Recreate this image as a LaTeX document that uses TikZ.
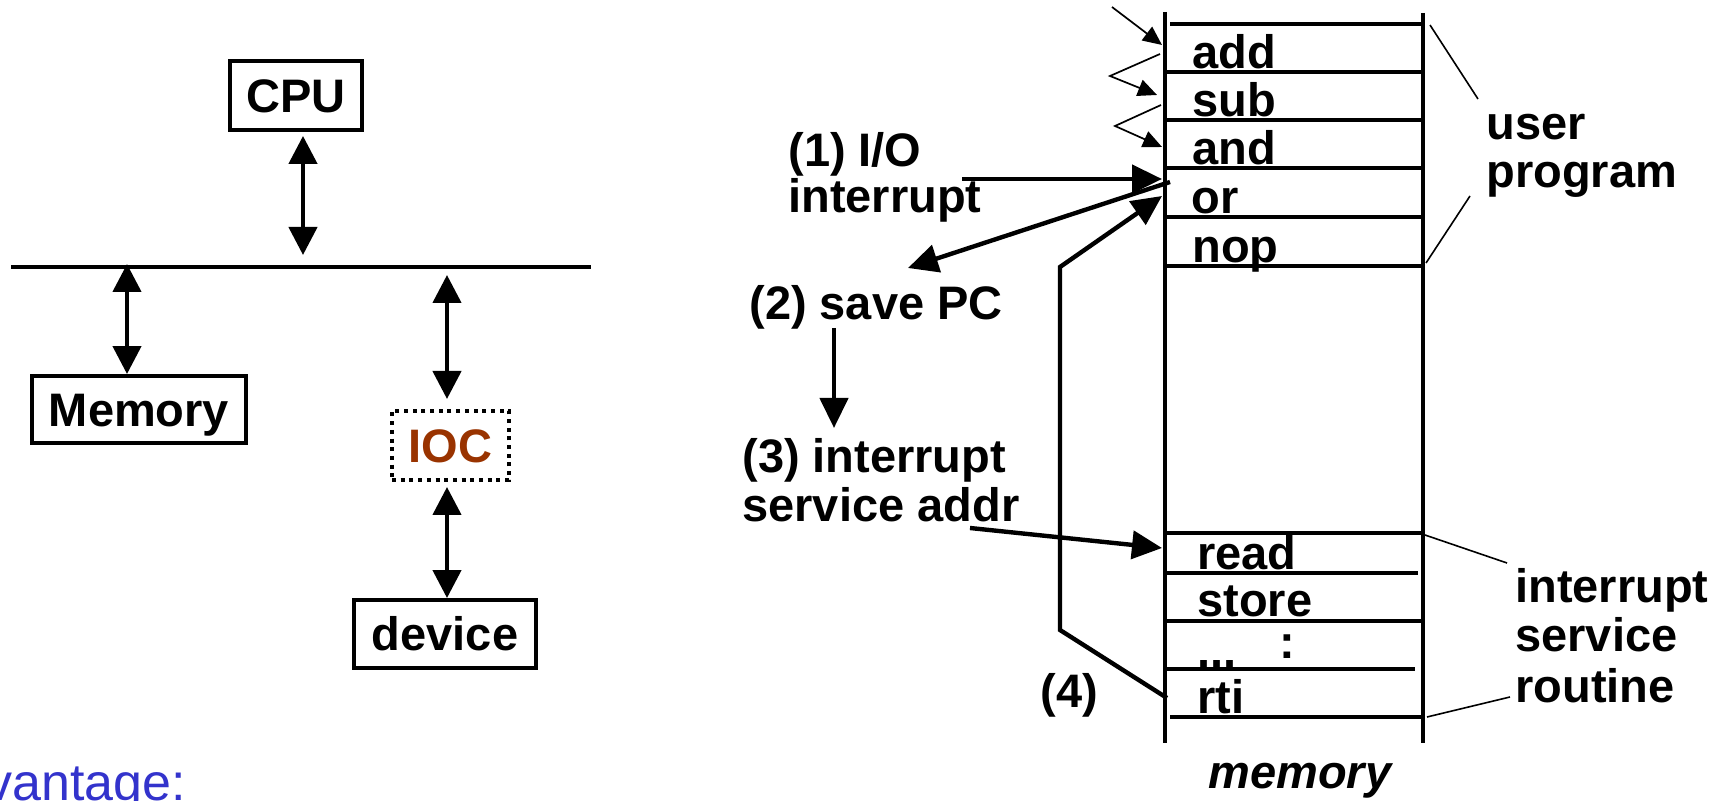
\documentclass[tikz,border=0pt]{standalone}
\usepackage{fontspec}
\setmainfont{Liberation Sans}
\usetikzlibrary{arrows.meta}
\definecolor{iocbrown}{HTML}{993300}
\definecolor{advblue}{HTML}{3333CC}
\begin{document}
\begin{tikzpicture}[x=0.5pt,y=-0.5pt,
  every node/.style={font=\fontsize{23.5}{24}\selectfont\bfseries, inner sep=0pt},
  lbl/.style={anchor=base west},
  box/.style={draw, line width=2.2pt, text height=16.8pt, text depth=0pt, inner sep=0pt},
  dotbox/.style={draw, line width=2pt, dash pattern=on 2pt off 2.35pt, text height=16.8pt, text depth=0pt, inner sep=0pt},
  dbl/.style={line width=2.2pt, {Triangle[length=14pt,width=14pt]}-{Triangle[length=14pt,width=14pt]}},
  fat arrow/.style={line width=2.2pt, -{Triangle[length=15pt,width=14pt]}},
  thin arrow/.style={line width=0.85pt, line join=miter, -{Triangle[length=9.5pt,width=8.5pt]}},
  leader/.style={line width=0.8pt},
  memline/.style={line width=2pt},
]
\useasboundingbox (0,0) rectangle (1720,801);
\clip (0,0) rectangle (1720,801);

% ---------------- left: bus diagram ----------------
\node[box, minimum width=65.75pt, minimum height=34.25pt] (cpu) at (296,95.5) {CPU};
\node[box, minimum width=106.75pt, minimum height=33.25pt] (mem) at (139,409.5) {Memory};
\node[dotbox, minimum width=58.5pt, minimum height=34.5pt, text=iocbrown] (ioc) at (450.5,445.5) {IOC};
\node[box, minimum width=90.75pt, minimum height=33.75pt] (dev) at (445,634) {device};

\coordinate (busL) at (11,267);
\coordinate (busR) at (591,267);
\draw[line width=2pt] (busL) -- (busR);

\coordinate (bcpu) at (303,255);
\coordinate (bmem) at (127,264);
\coordinate (bioc) at (447,275);

\draw[dbl, shorten <=2pt] (cpu.south -| bcpu) -- (bcpu);
\draw[dbl] (bmem) -- (mem.north -| bmem);
\draw[dbl, shorten >=5pt] (bioc) -- (ioc.north -| bioc);
\draw[dbl, shorten <=2.5pt] (ioc.south -| bioc) -- (dev.north -| bioc);

\node[anchor=base west, font=\fontsize{26}{27}\selectfont, text=advblue] (adv) at (-14,801) {vantage:};

% ---------------- right: memory ----------------
\draw[memline] (1165,12) -- (1165,743);
\draw[memline] (1423,13) -- (1423,743);
\draw[memline] (1170,24) -- (1421,24);
\foreach \yy in {72,120,168,217,266,533,621}
  \draw[memline] (1167,\yy) -- (1423,\yy);
\draw[memline] (1167,573) -- (1418,573);
\draw[memline] (1167,669) -- (1415,669);
\draw[memline] (1170,717) -- (1423,717);

\node[lbl] (i-add) at (1192,69) {add};
\node[lbl] (i-sub) at (1192,117) {sub};
\node[lbl] (i-and) at (1192,165) {and};
\node[lbl] (i-or) at (1191,214) {or};
\node[lbl] (i-nop) at (1192,263) {nop};
\node[lbl] (i-read) at (1197,570) {read};
\node[lbl] (i-store) at (1197,617) {store};
\node[lbl] (i-dots) at (1197,668) {...};
\node[anchor=base] (i-colon) at (1287,659) {:};
\node[lbl] (i-rti) at (1197,714) {rti};

\node[anchor=base, font=\fontsize{23.5}{24}\selectfont\bfseries\itshape] (memlbl) at (1300,789) {memory};

\node[lbl] (up1) at (1486,140) {user};
\node[lbl] (up2) at (1486,188) {program};
\node[lbl] (isr1) at (1515,603) {interrupt};
\node[lbl] (isr2) at (1515,652) {service};
\node[lbl] (isr3) at (1515,703) {routine};

% leader lines
\coordinate (upA) at (1430,25);  \coordinate (upAe) at (1478,99);
\coordinate (upB) at (1426,263); \coordinate (upBe) at (1470,196);
\coordinate (isA) at (1425,535); \coordinate (isAe) at (1507,563);
\coordinate (isB) at (1427,717); \coordinate (isBe) at (1510,697);
\draw[leader] (upA) -- (upAe);
\draw[leader] (upB) -- (upBe);
\draw[leader] (isA) -- (isAe);
\draw[leader] (isB) -- (isBe);

% small sequencing arrows
\coordinate (s1a) at (1112,7);   \coordinate (s1b) at (1162,45);
\coordinate (s2a) at (1160,54);  \coordinate (s2m) at (1110,76);  \coordinate (s2b) at (1157,95);
\coordinate (s3a) at (1161,105); \coordinate (s3m) at (1115,126); \coordinate (s3b) at (1162,147);
\draw[thin arrow] (s1a) -- (s1b);
\draw[thin arrow] (s2a) -- (s2m) -- (s2b);
\draw[thin arrow] (s3a) -- (s3m) -- (s3b);

% labels of the steps
\node[lbl] (l1a) at (788,167) {(1) I/O};
\node[lbl] (l1b) at (788,213) {interrupt};
\node[lbl] (l2) at (749,320) {(2) save PC};
\node[lbl] (l3a) at (742,473) {(3) interrupt};
\node[lbl] (l3b) at (742,522) {service addr};
\node[lbl] (l4) at (1040,708) {(4)};

% step arrows
\coordinate (a1s) at (962,179);  \coordinate (a1e) at (1162,179);
\coordinate (a2s) at (1170,182); \coordinate (a2e) at (908,268);
\coordinate (a3s) at (834,328);  \coordinate (a3e) at (834,428);
\coordinate (a4s) at (970,528);  \coordinate (a4e) at (1162,548);
\coordinate (r0) at (1167,698);  \coordinate (r1) at (1060,630);
\coordinate (r2) at (1060,267);  \coordinate (r3) at (1162,196);
\draw[fat arrow] (a1s) -- (a1e);
\draw[fat arrow] (a2s) -- (a2e);
\draw[fat arrow] (a3s) -- (a3e);
\draw[fat arrow] (a4s) -- (a4e);
\draw[fat arrow, line join=miter] (r0) -- (r1) -- (r2) -- (r3);
\end{tikzpicture}
\end{document}
